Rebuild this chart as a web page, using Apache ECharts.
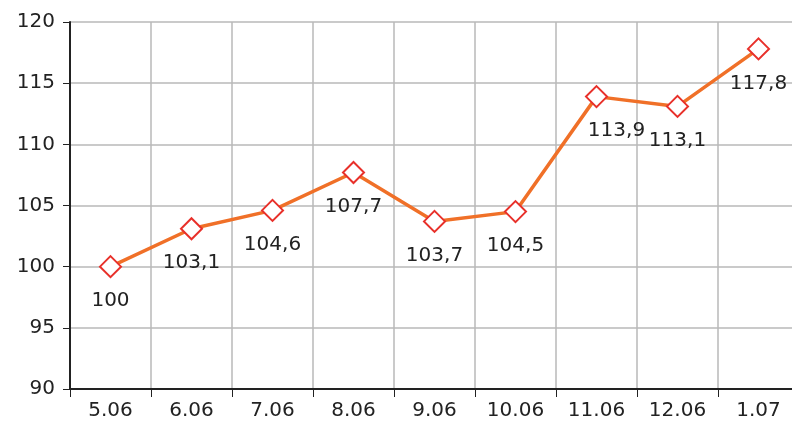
<!DOCTYPE html>
<html>
<head>
<meta charset="utf-8">
<script src="https://cdn.jsdelivr.net/npm/echarts@6/dist/echarts.min.js"></script>
<style>
  html, body { margin: 0; padding: 0; background: #fff; }
  #main { width: 792px; height: 429px; }
</style>
</head>
<body>
<div id="main"></div>
<script>
var categories = ['5.06', '6.06', '7.06', '8.06', '9.06', '10.06', '11.06', '12.06', '1.07'];
var values = [100, 103.1, 104.6, 107.7, 103.7, 104.5, 113.9, 113.1, 117.8];

var myChart = echarts.init(document.getElementById('main'));
var font = 'DejaVu Sans';
// the 11.06 label sits a bit to the right in the original
var seriesData = values.map(function (v, i) {
  return i === 6 ? { value: v, label: { offset: [20, 0] } } : v;
});
myChart.setOption({
  animation: false,
  grid: { left: 70, width: 729, top: 22, bottom: 40, outerBoundsMode: 'none' },
  xAxis: {
    type: 'category',
    data: categories,
    boundaryGap: true,
    axisLine: { lineStyle: { color: '#222', width: 2 } },
    axisTick: { show: true, length: 8, lineStyle: { color: '#222' } },
    axisLabel: { color: '#222', fontSize: 20, fontFamily: font, margin: 12 },
    splitLine: { show: true, lineStyle: { color: '#b8b8b8', width: 1.5 } }
  },
  yAxis: {
    type: 'value',
    min: 90,
    max: 120,
    interval: 5,
    axisLine: { show: true, lineStyle: { color: '#222', width: 2 } },
    axisTick: { show: true, length: 7, lineStyle: { color: '#222' } },
    axisLabel: { color: '#222', fontSize: 20, fontFamily: font, margin: 15 },
    splitLine: { lineStyle: { color: '#b8b8b8', width: 1.5 } }
  },
  series: [{
    type: 'line',
    data: seriesData,
    symbol: 'diamond',
    symbolSize: 21,
    lineStyle: { color: '#f07028', width: 3.5 },
    itemStyle: { color: '#fff', borderColor: '#e8302a', borderWidth: 2 },
    label: {
      show: true,
      position: 'bottom',
      distance: 13,
      color: '#222',
      fontSize: 20,
      fontFamily: font,
      formatter: function (p) { return String(p.value).replace('.', ','); }
    }
  }]
});
</script>
</body>
</html>
